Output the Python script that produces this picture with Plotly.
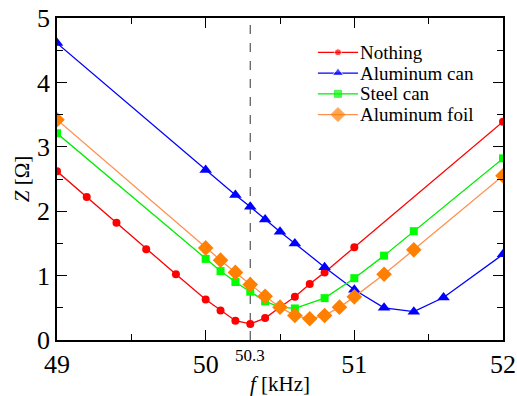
import plotly.graph_objects as go

# Data
f_nothing = [49.0, 49.2, 49.4, 49.6, 49.8, 50.0, 50.1, 50.2, 50.3, 50.4, 50.5, 50.6, 50.7, 50.8, 51.0, 52.0]
z_nothing = [2.62, 2.22, 1.82, 1.41, 1.02, 0.63, 0.46, 0.30, 0.25, 0.34, 0.51, 0.67, 0.87, 1.05, 1.44, 3.39]

f_alcan = [49.0, 50.0, 50.2, 50.3, 50.4, 50.5, 50.6, 50.8, 51.0, 51.2, 51.4, 51.6, 52.0]
z_alcan = [4.61, 2.64, 2.25, 2.07, 1.87, 1.68, 1.50, 1.13, 0.78, 0.50, 0.44, 0.66, 1.33]

f_steel = [49.0, 50.0, 50.1, 50.2, 50.3, 50.4, 50.5, 50.6, 50.8, 51.0, 51.2, 51.4, 52.0]
z_steel = [3.21, 1.26, 1.07, 0.90, 0.75, 0.60, 0.51, 0.49, 0.65, 0.96, 1.31, 1.69, 2.82]

f_foil = [49.0, 50.0, 50.1, 50.2, 50.3, 50.4, 50.5, 50.6, 50.7, 50.8, 50.9, 51.0, 51.2, 51.4, 52.0]
z_foil = [3.42, 1.43, 1.24, 1.05, 0.86, 0.68, 0.51, 0.38, 0.33, 0.38, 0.51, 0.67, 1.02, 1.40, 2.55]

names = ["Nothing", "Aluminum can", "Steel can", "Aluminum foil"]
x_ticks = [49, 50, 51, 52]
y_ticks = [0, 1, 2, 3, 4, 5]
f_res = 50.3

font_fam = "'Liberation Serif', 'Times New Roman', Times, 'DejaVu Serif', serif"

styles = [
    dict(line="#ff0000", marker="#ff0000", symbol="circle", size=8),
    dict(line="#0000ff", marker="#0000ff", symbol="triangle-up", size=11),
    dict(line="#00ee00", marker="#00ff00", symbol="square", size=8),
    dict(line="#ff9050", marker="#ff8000", symbol="diamond", size=12),
]
series = [(f_nothing, z_nothing), (f_alcan, z_alcan), (f_steel, z_steel), (f_foil, z_foil)]

fig = go.Figure()
for (xs, ys), name, st in zip(series, names, styles):
    fig.add_trace(go.Scatter(x=xs, y=ys, name=name, mode="lines+markers", showlegend=False,
                             line=dict(color=st["line"], width=1.3),
                             marker=dict(symbol=st["symbol"], size=st["size"], color=st["marker"])))

# Custom compact legend (drawn on a hidden overlay axis spanning the plot area)
leg_x0, leg_x1, leg_text_x = 0.585, 0.675, 0.677
leg_y_top, leg_dy = 0.8935, 0.0645
for i, (name, st) in enumerate(zip(names, styles)):
    yy = leg_y_top - i * leg_dy
    fig.add_trace(go.Scatter(x=[leg_x0, (leg_x0 + leg_x1) / 2, leg_x1], y=[yy, yy, yy],
                             xaxis="x2", yaxis="y2", mode="lines+markers", showlegend=False,
                             hoverinfo="skip",
                             line=dict(color=st["line"], width=1.3),
                             marker=dict(symbol=st["symbol"], size=[0, st["size"] - 1, 0],
                                         color=st["marker"])))
    fig.add_annotation(x=leg_text_x, y=yy, xref="paper", yref="paper", xanchor="left",
                       yanchor="middle", text=name, showarrow=False, borderpad=0,
                       font=dict(family=font_fam, size=19, color="black"))

fig.add_shape(type="line", xref="x", yref="paper", x0=f_res, x1=f_res, y0=0, y1=1,
              line=dict(color="#555555", width=1.2, dash="dash"), layer="below")
fig.add_annotation(x=f_res, xref="x", y=0, yref="paper", yanchor="top", yshift=-4,
                   text=str(f_res), showarrow=False,
                   font=dict(family=font_fam, size=17, color="black"))

axis_common = dict(showgrid=False, zeroline=False, showline=True, linecolor="black",
                   linewidth=1.5, mirror="allticks", ticks="inside", ticklen=10,
                   tickwidth=1.3, tickcolor="black", automargin=False,
                   tickfont=dict(family=font_fam, size=26, color="black"))

xaxis = dict(range=[49, 52], tickvals=x_ticks, ticktext=[str(v) for v in x_ticks],
             minor=dict(tickvals=[49.5, 50.5, 51.5], ticks="inside", ticklen=6,
                        tickwidth=1.3, tickcolor="black"),
             title=dict(text="<i>f</i> [kHz]", font=dict(family=font_fam, size=21, color="black"),
                        standoff=4),
             **axis_common)
yaxis = dict(range=[0, 5], tickvals=y_ticks, ticktext=[str(v) for v in y_ticks],
             minor=dict(dtick=0.5, ticks="inside", ticklen=6,
                        tickwidth=1.3, tickcolor="black"),
             title=dict(text="<i>Z</i> [Ω]", font=dict(family=font_fam, size=21, color="black"),
                        standoff=2),
             **axis_common)

fig.update_layout(
    xaxis=xaxis, yaxis=yaxis,
    xaxis2=dict(overlaying="x", range=[0, 1], visible=False, fixedrange=True),
    yaxis2=dict(overlaying="y", range=[0, 1], visible=False, fixedrange=True),
    width=517, height=396,
    margin=dict(l=57, r=14, t=18, b=56),
    plot_bgcolor="white", paper_bgcolor="white",
    font=dict(family=font_fam, color="black"),
    showlegend=False,
)

fig.write_html("out.html")
